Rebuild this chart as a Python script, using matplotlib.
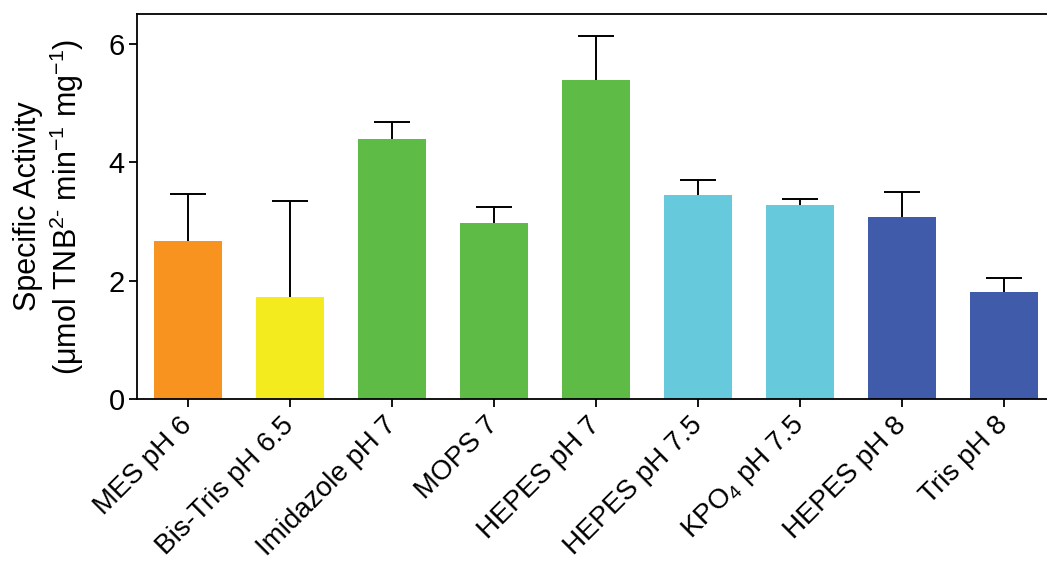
import numpy as np
import matplotlib.pyplot as plt

plt.rcParams['font.family'] = ['Liberation Sans', 'DejaVu Sans']
plt.rcParams['mathtext.fontset'] = 'custom'
plt.rcParams['mathtext.rm'] = 'Liberation Sans'
plt.rcParams['mathtext.it'] = 'Liberation Sans'
plt.rcParams['mathtext.default'] = 'regular'

# buffers and measured activities
buffers = ['MES pH 6', 'Bis-Tris pH 6.5', 'Imidazole pH 7', 'MOPS 7', 'HEPES pH 7',
           'HEPES pH 7.5', 'KPO$_4$ pH 7.5', 'HEPES pH 8', 'Tris pH 8']
activity = [2.66, 1.72, 4.39, 2.97, 5.39, 3.44, 3.27, 3.07, 1.80]
err_up = [0.81, 1.62, 0.28, 0.28, 0.74, 0.25, 0.10, 0.42, 0.25]
colors = ['#F7931E', '#F4EB1F', '#5DBB46', '#5DBB46', '#5DBB46',
          '#66C9DC', '#66C9DC', '#3F5BA9', '#3F5BA9']

fig = plt.figure(figsize=(10.47, 5.63), dpi=100)
ax = fig.add_axes([0.1309, 0.2913, 0.869, 0.6837])

x = np.arange(len(buffers))
ax.bar(x, activity, width=0.67, color=colors, zorder=2)
eb = ax.errorbar(x, activity, yerr=[np.zeros(len(x)), err_up], fmt='none',
                 ecolor='black', elinewidth=1.4, capsize=13, capthick=1.4, zorder=3)
# only the upper cap is drawn
eb[1][0].set_visible(False)

ax.set_xlim(-0.5, 8.42)
ax.set_ylim(0, 6.5)
ax.set_yticks([0, 2, 4, 6])
ax.set_xticks(x)
ax.set_xticklabels(buffers, rotation=45, ha='right', va='center',
                   rotation_mode='anchor')

ax.spines['right'].set_visible(False)
for s in ['left', 'bottom', 'top']:
    ax.spines[s].set_linewidth(1.3)
ax.tick_params(axis='both', labelsize=20, width=1.3, length=6, direction='out')
ax.tick_params(axis='x', pad=10)
ax.tick_params(axis='y', pad=3, labelsize=21)

ax.set_ylabel('Specific Activity\n(μmol TNB$^{2\\text{-}}$ min$^{-1}$ mg$^{-1}$)',
              fontsize=22, labelpad=16, linespacing=1.15)

fig.savefig('out.png', dpi=100)
